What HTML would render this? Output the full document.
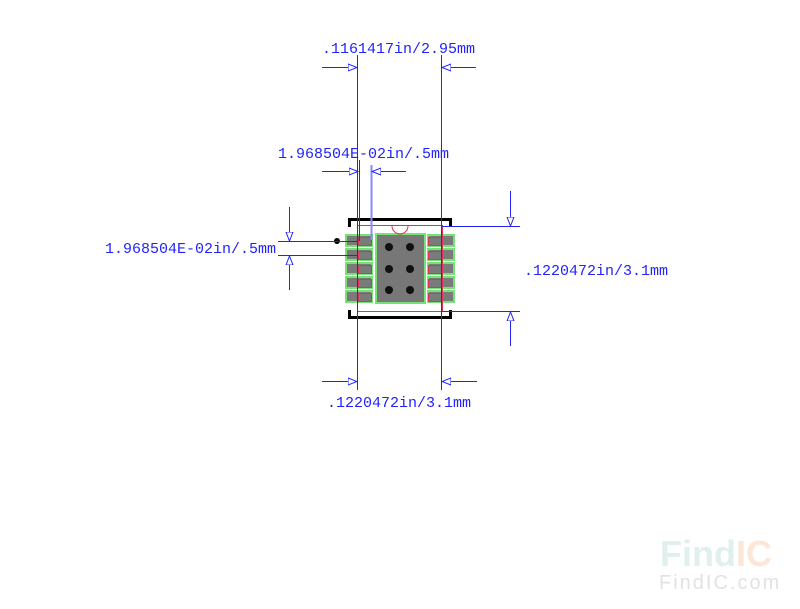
<!DOCTYPE html><html><head><style>body{margin:0;background:#fff}svg{display:block}</style></head><body>
<svg width="800" height="609" xmlns="http://www.w3.org/2000/svg" font-family="Liberation Mono, monospace" font-size="15">
<defs>
<marker id="a" markerWidth="10" markerHeight="8" refX="9" refY="4" orient="auto" markerUnits="userSpaceOnUse"><path d="M0,0.5 L9,4 L0,7.5 Z" fill="#fff" stroke="#2222ff" stroke-width="1"/></marker>
</defs>
<path d="M349.5,227 V219.5 H450.5 V227" stroke="#000" stroke-width="3" fill="none"/>
<path d="M349.5,310 V317.5 H450.5 V310" stroke="#000" stroke-width="3" fill="none"/>
<g fill="#7a7a7a" stroke="#77e077" stroke-width="2">
<rect x="346" y="235" width="26" height="11"/><rect x="346" y="249" width="26" height="11"/><rect x="346" y="263" width="26" height="11"/><rect x="346" y="277" width="26" height="11"/><rect x="346" y="291" width="26" height="11"/>
<rect x="428" y="235" width="26" height="11"/><rect x="428" y="249" width="26" height="11"/><rect x="428" y="263" width="26" height="11"/><rect x="428" y="277" width="26" height="11"/><rect x="428" y="291" width="26" height="11"/>
<rect x="376" y="234" width="49" height="69" fill="#777"/>
</g>
<g fill="none" stroke="#dd3355" stroke-width="1">
<rect x="357.5" y="225.5" width="85" height="86"/>
<rect x="358.5" y="237.5" width="13" height="8"/><rect x="358.5" y="251.5" width="13" height="8"/><rect x="358.5" y="265.5" width="13" height="8"/><rect x="358.5" y="279.5" width="13" height="8"/><rect x="358.5" y="293.5" width="13" height="8"/>
<rect x="428.5" y="237.5" width="13" height="8"/><rect x="428.5" y="251.5" width="13" height="8"/><rect x="428.5" y="265.5" width="13" height="8"/><rect x="428.5" y="279.5" width="13" height="8"/><rect x="428.5" y="293.5" width="13" height="8"/>
<path d="M392,226 A8,8 0 0 0 408,226"/>
</g>
<circle cx="337" cy="241" r="3" fill="#000"/>
<g fill="#111"><circle cx="389" cy="247" r="4"/><circle cx="410" cy="247" r="4"/><circle cx="389" cy="269" r="4"/><circle cx="410" cy="269" r="4"/><circle cx="389" cy="290" r="4"/><circle cx="410" cy="290" r="4"/></g>
<g stroke="#2222ff" stroke-width="1" fill="none">
<line x1="357.5" y1="55" x2="357.5" y2="390"/>
<line x1="359.5" y1="160" x2="359.5" y2="241"/>
<line x1="441.5" y1="55" x2="441.5" y2="390"/>
<line x1="371.5" y1="165" x2="371.5" y2="240" stroke="#8888ff" stroke-width="2"/>
<line x1="322" y1="67.5" x2="357" y2="67.5" marker-end="url(#a)"/>
<line x1="476" y1="67.5" x2="442" y2="67.5" marker-end="url(#a)"/>
<line x1="322" y1="171.5" x2="358" y2="171.5" marker-end="url(#a)"/>
<line x1="406" y1="171.5" x2="372" y2="171.5" marker-end="url(#a)"/>
<line x1="278" y1="241.5" x2="358" y2="241.5"/>
<line x1="278" y1="255.5" x2="358" y2="255.5"/>
<line x1="289.5" y1="207" x2="289.5" y2="241" marker-end="url(#a)"/>
<line x1="289.5" y1="290" x2="289.5" y2="256" marker-end="url(#a)"/>
<line x1="442" y1="226.5" x2="520" y2="226.5"/>
<line x1="442" y1="311.5" x2="520" y2="311.5"/>
<line x1="510.5" y1="191" x2="510.5" y2="226" marker-end="url(#a)"/>
<line x1="510.5" y1="346" x2="510.5" y2="312" marker-end="url(#a)"/>
<line x1="322" y1="381.5" x2="357" y2="381.5" marker-end="url(#a)"/>
<line x1="477" y1="381.5" x2="442" y2="381.5" marker-end="url(#a)"/>
</g>
<g fill="#2222ff">
<text x="322" y="53">.1161417in/2.95mm</text>
<text x="278" y="158">1.968504E-02in/.5mm</text>
<text x="105" y="253">1.968504E-02in/.5mm</text>
<text x="524" y="275">.1220472in/3.1mm</text>
<text x="327" y="407">.1220472in/3.1mm</text>
</g>
<text x="660" y="566" font-family="Liberation Sans, sans-serif" font-weight="bold" font-size="36" fill="#dff0ee">Find<tspan fill="#fbe6d8">IC</tspan></text>
<text x="659" y="589" font-family="Liberation Sans, sans-serif" font-size="20" fill="#e2e2e2" letter-spacing="2">FindIC.com</text>
</svg>
</body></html>
